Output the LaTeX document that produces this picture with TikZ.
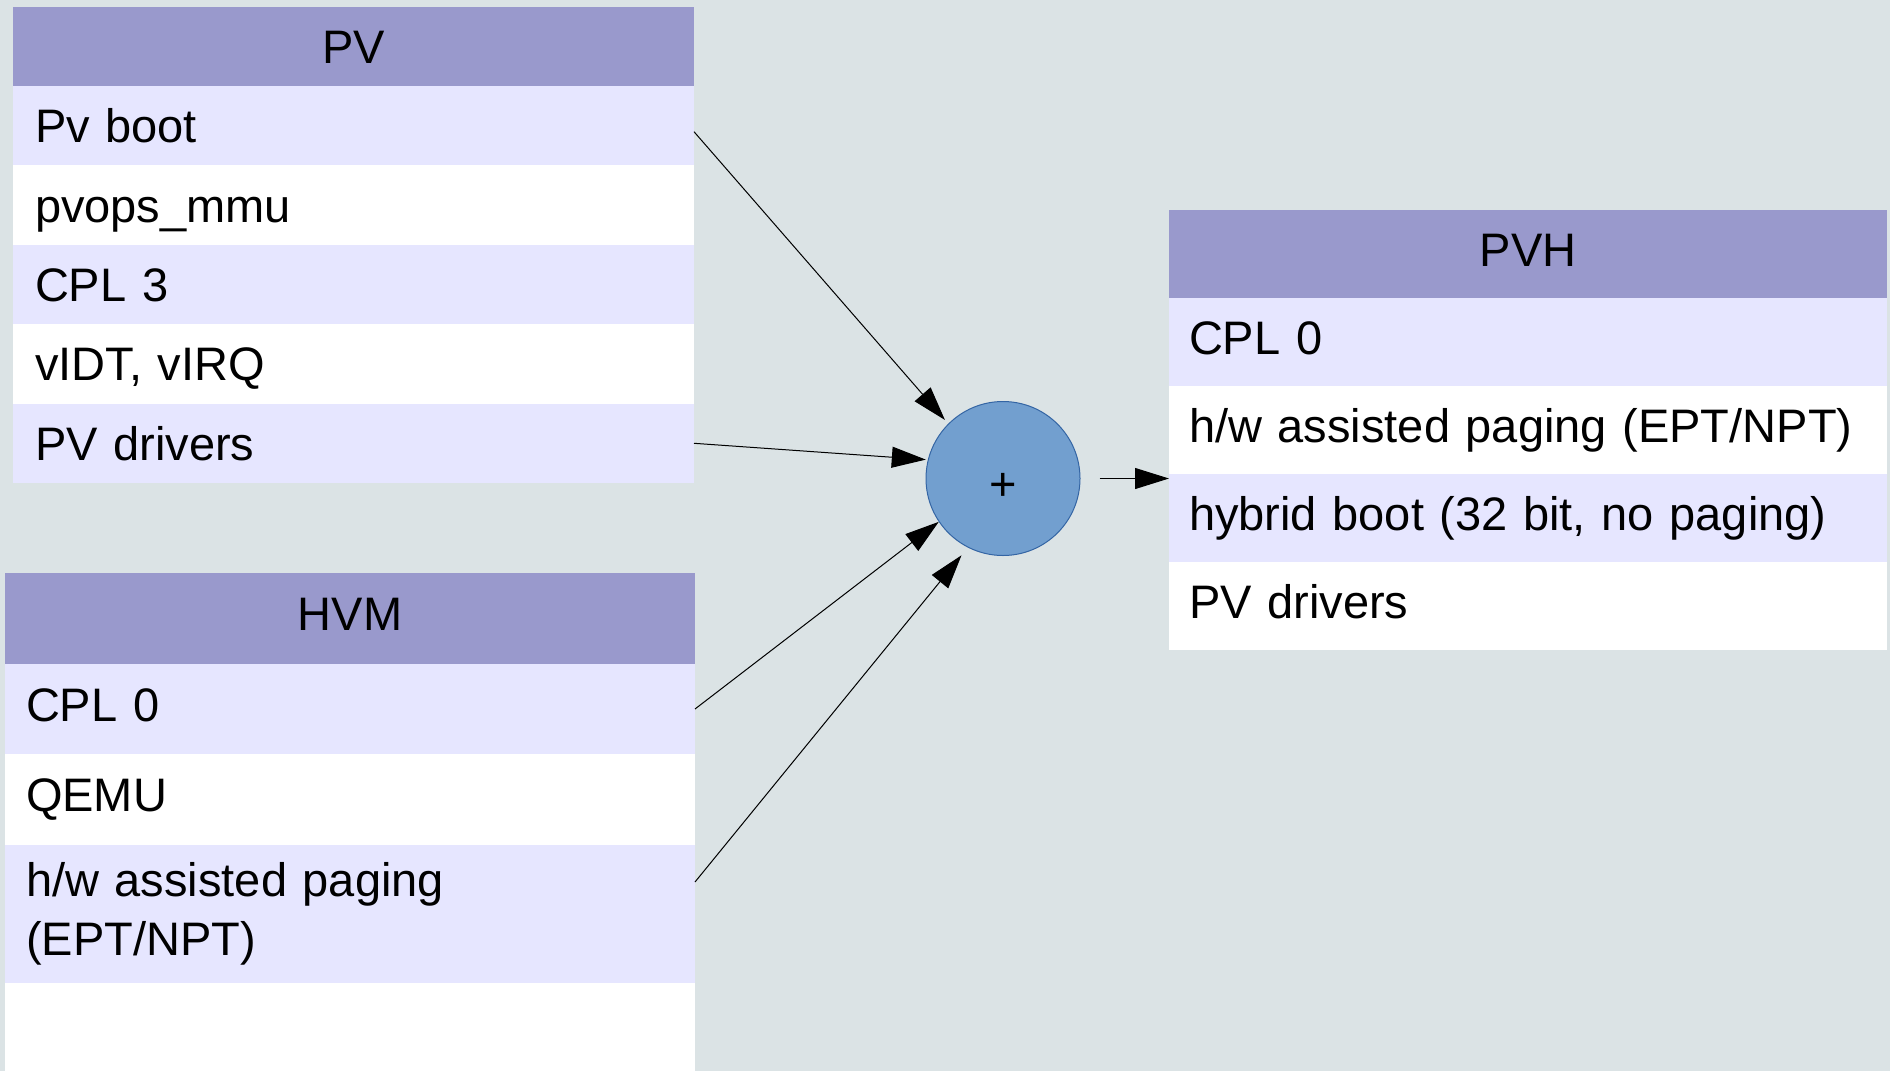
\documentclass[tikz,border=0pt]{standalone}
\usepackage{fontspec}
\setmainfont{Liberation Sans}
\usetikzlibrary{arrows.meta,positioning}
\definecolor{cback}{RGB}{219,227,229}
\definecolor{chead}{RGB}{153,153,204}
\definecolor{clight}{RGB}{230,230,255}
\definecolor{cplus}{RGB}{114,159,207}
\definecolor{cplusline}{RGB}{52,101,164}

\begin{document}
\begin{tikzpicture}[>={Triangle[length=17pt,width=10.5pt]},line width=0.5pt,node distance=0pt,
  cell/.style={rectangle,inner ysep=0pt,outer sep=0pt,align=left,text height=17pt,text depth=0pt,
    font=\fontsize{23.5pt}{29.5pt}\selectfont},
  head node/.style={cell,fill=chead,align=center},
  light node/.style={cell,fill=clight},
  white node/.style={cell,fill=white},
  pv/.style={text width=318.5pt,inner xsep=11pt,minimum height=39.7pt},
  hvm/.style={text width=324pt,inner xsep=10.5pt,minimum height=45pt,text depth=5pt},
  pvh/.style={text width=339pt,inner xsep=10pt,minimum height=44pt,text depth=4.5pt},
  plus node/.style={circle,fill=cplus,draw=cplusline,minimum size=77pt,inner sep=0pt,
    text height=22.3pt,text depth=0pt,font=\fontsize{23.5pt}{29.5pt}\selectfont}]
  \fill[cback] (0,0) rectangle (945pt,-535.5pt);
  \useasboundingbox (0,0) rectangle (945pt,-535.5pt);

  % PV
  \node[head node,pv,anchor=north west,minimum height=39.5pt] (pv) at (6.5pt,-3.5pt) {PV};
  \node[light node,pv] (pv1) [below=of pv] {Pv boot};
  \node[white node,pv] (pv2) [below=of pv1] {pvops\_mmu};
  \node[light node,pv] (pv3) [below=of pv2] {CPL 3};
  \node[white node,pv] (pv4) [below=of pv3] {vIDT, vIRQ};
  \node[light node,pv] (pv5) [below=of pv4] {PV drivers};

  % HVM
  \node[head node,hvm,anchor=north west,minimum height=45.5pt] (hvm) at (2.5pt,-286.5pt) {HVM};
  \node[light node,hvm] (hvm1) [below=of hvm] {CPL 0};
  \node[white node,hvm,minimum height=45.5pt] (hvm2) [below=of hvm1] {QEMU};
  \node[light node,hvm,minimum height=69pt,text height=,text depth=] (hvm3) [below=of hvm2]
    {h/w assisted paging\\(EPT/NPT)};
  \node[white node,hvm,minimum height=44pt] (hvm4) [below=of hvm3] {};

  % PVH
  \node[head node,pvh,anchor=north west] (pvh) at (584.5pt,-105pt) {PVH};
  \node[light node,pvh] (pvh1) [below=of pvh] {CPL 0};
  \node[white node,pvh] (pvh2) [below=of pvh1] {h/w assisted paging (EPT/NPT)};
  \node[light node,pvh] (pvh3) [below=of pvh2] {hybrid boot (32 bit, no paging)};
  \node[white node,pvh] (pvh4) [below=of pvh3] {PV drivers};

  \node[plus node] (plus) at (501.5pt,-239.25pt) {+};

  \path[->]
    ([yshift=-3pt]pv1.east) edge[shorten >=2.5pt] (plus.135)
    (pv5.east) edge[shorten >=1pt] (plus.166)
    (hvm1.east) edge (plus.214)
    ([yshift=16pt]hvm3.east) edge[shorten >=5pt] (plus.243)
    (plus.east) edge[shorten <=9.5pt] (plus -| pvh3.west);

\end{tikzpicture}
\end{document}
